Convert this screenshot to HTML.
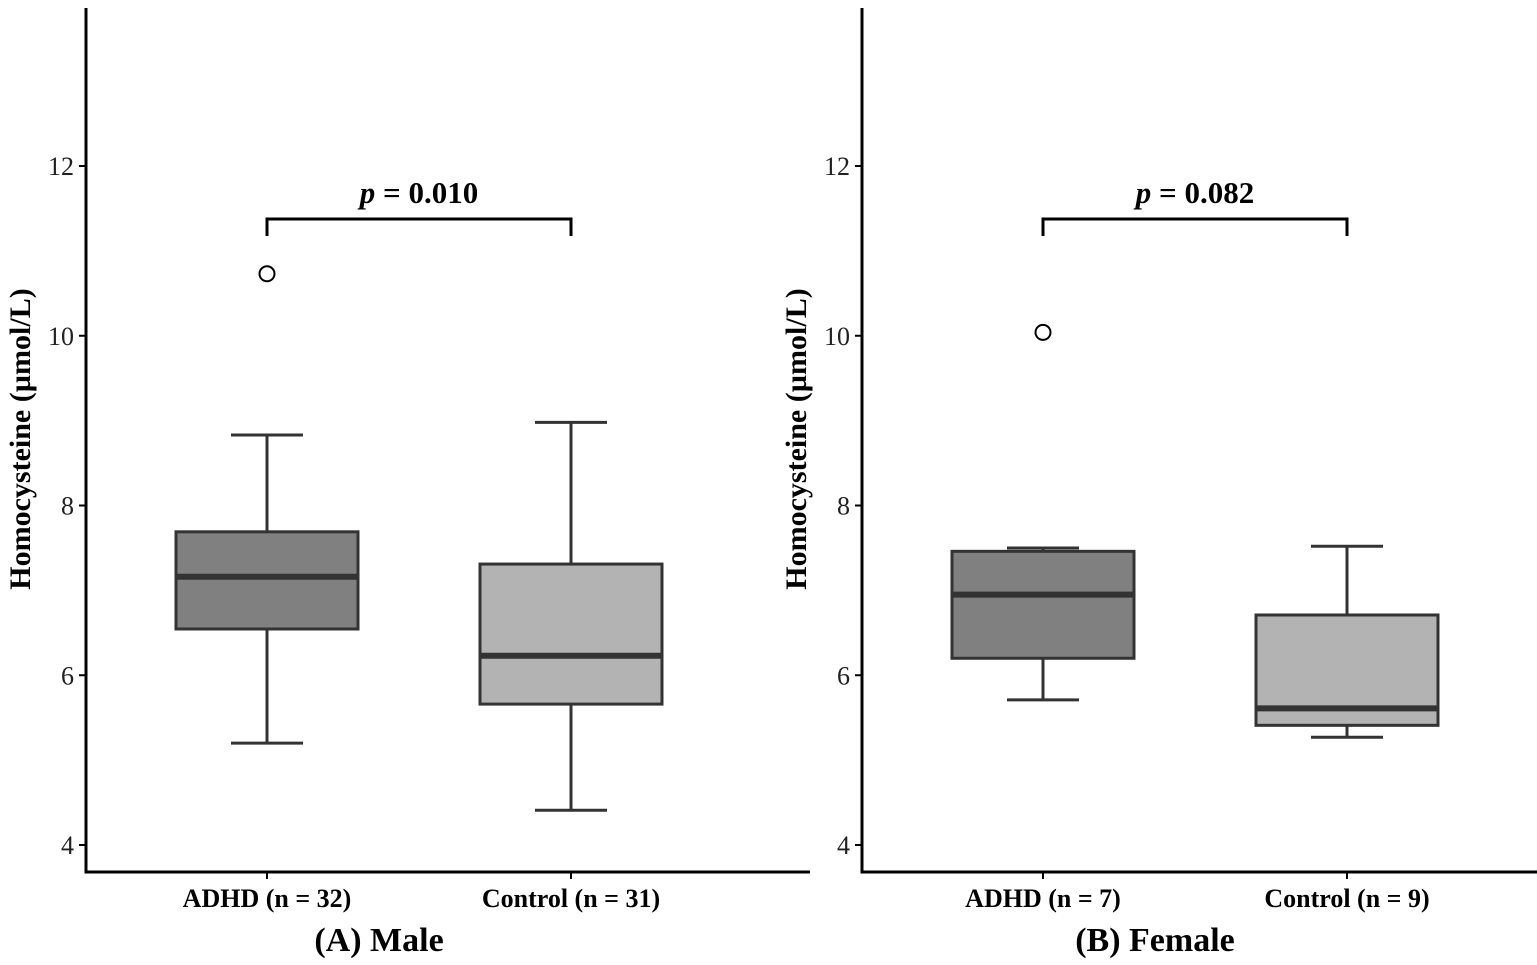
<!DOCTYPE html>
<html><head><meta charset="utf-8"><style>
html,body{margin:0;padding:0;background:#fff;}
svg{display:block;font-family:"Liberation Serif",serif;}
</style></head><body>
<svg id="chart" width="1537" height="965" viewBox="0 0 1537 965"></svg>
<script>
const panelTitles = ["(A) Male", "(B) Female"];
const categories = [["ADHD (n = 32)", "Control (n = 31)"], ["ADHD (n = 7)", "Control (n = 9)"]];
const lowWhisker = [[5.20, 4.41], [5.71, 5.27]];
const q1 = [[6.545, 5.66], [6.20, 5.41]];
const median = [[7.16, 6.23], [6.95, 5.61]];
const q3 = [[7.69, 7.31], [7.46, 6.71]];
const highWhisker = [[8.83, 8.98], [7.50, 7.52]];
const outliers = [[[10.73], []], [[10.04], []]];
const pValues = ["0.010", "0.082"];
const yTicks = [4, 6, 8, 10, 12];
const bracketLevel = [11.376, 11.376];

const NS = "http://www.w3.org/2000/svg";
const svg = document.getElementById("chart");
function mk(tag, attrs, parent) {
  const e = document.createElementNS(NS, tag);
  for (const k in attrs) e.setAttribute(k, attrs[k]);
  (parent || svg).appendChild(e);
  return e;
}
function y(v) { return 845 - (v - 4) * 84.875; }
const panelX = [86, 862];
const catOffset = [181, 485];
const fills = ["#808080", "#b3b3b3"];
const boxHalf = 91;

panelX.forEach((px, p) => {
  const g = mk("g", {});
  
  
  const ax = mk("path", {d: `M${px} 8 V872 H${px + 724}`, stroke: "#000", "stroke-width": 3, fill: "none"}, g);
  
  
  yTicks.forEach(t => {
    const tk = mk("line", {x1: px - 7, x2: px, y1: y(t), y2: y(t), stroke: "#000", "stroke-width": 2}, g);
    
    
    const tl = mk("text", {x: px - 12, y: y(t) + 9, "text-anchor": "end", "font-size": 26, fill: "#222"}, g);
    tl.textContent = t;
    
    
  });
  const yt = mk("text", {transform: `translate(${px - 56},439) rotate(-90)`, "text-anchor": "middle", "font-size": 30, "font-weight": "bold"}, g);
  yt.textContent = "Homocysteine (µmol/L)";
  
  
  const cx = catOffset.map(o => px + o);
  categories[p].forEach((c, i) => {
    const x = cx[i];
    const tk = mk("line", {x1: x, x2: x, y1: 872, y2: 879, stroke: "#000", "stroke-width": 2}, g);
    
    
    const cl = mk("text", {x: x, y: 907, "text-anchor": "middle", "font-size": 26, "font-weight": "bold"}, g);
    cl.textContent = c;
    
    
    const wh = mk("path", {d: `M${x} ${y(lowWhisker[p][i])} V${y(q1[p][i])} M${x} ${y(q3[p][i])} V${y(highWhisker[p][i])} M${x - 36} ${y(lowWhisker[p][i])} H${x + 36} M${x - 36} ${y(highWhisker[p][i])} H${x + 36}`, stroke: "#333", "stroke-width": 3, fill: "none"}, g);
    
    
    const bx = mk("rect", {x: x - boxHalf, y: y(q3[p][i]), width: boxHalf * 2, height: y(q1[p][i]) - y(q3[p][i]), fill: fills[i], stroke: "#333", "stroke-width": 3}, g);
    
    
    const md = mk("line", {x1: x - boxHalf, x2: x + boxHalf, y1: y(median[p][i]), y2: y(median[p][i]), stroke: "#333", "stroke-width": 6}, g);
    
    
    outliers[p][i].forEach(o => {
      const oc = mk("circle", {cx: x, cy: y(o), r: 7.5, fill: "#fff", stroke: "#000", "stroke-width": 2}, g);
      
      
    });
  });
  const by = y(bracketLevel[p]);
  const br = mk("path", {d: `M${cx[0]} ${by + 17} V${by} H${cx[1]} V${by + 17}`, stroke: "#000", "stroke-width": 3, fill: "none"}, g);
  
  
  const pt = mk("text", {x: (cx[0] + cx[1]) / 2, y: by - 16, "text-anchor": "middle", "font-size": 31, "font-weight": "bold"}, g);
  const it = mk("tspan", {"font-style": "italic"}, pt);
  it.textContent = "p";
  const rest = mk("tspan", {}, pt);
  rest.textContent = " = " + pValues[p];
  
  
  const ttl = mk("text", {x: px + 293, y: 951, "text-anchor": "middle", "font-size": 34, "font-weight": "bold"}, g);
  ttl.textContent = panelTitles[p];
  
  
});
</script>
</body></html>
